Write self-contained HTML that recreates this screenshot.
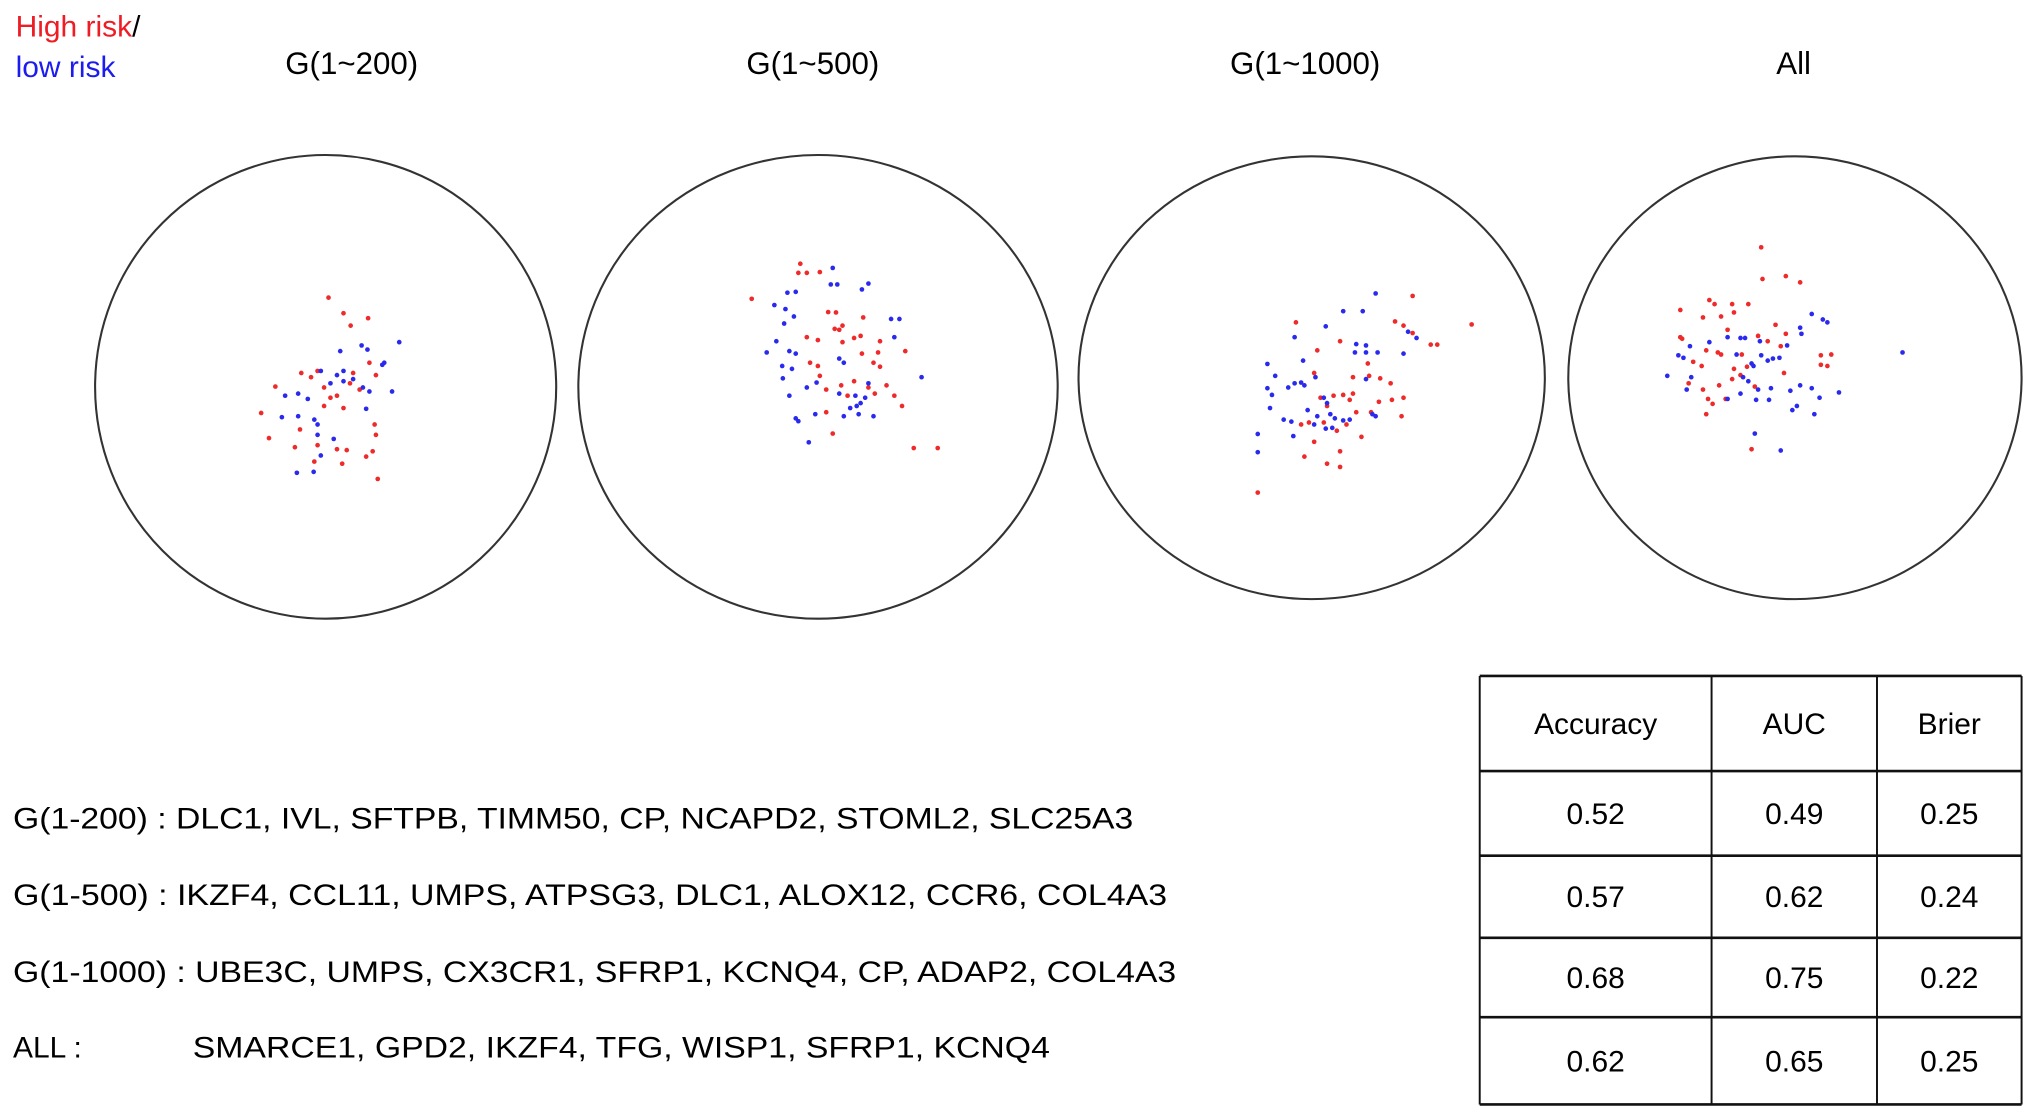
<!DOCTYPE html>
<html><head><meta charset="utf-8"><style>
html,body{margin:0;padding:0;background:#fff;}
svg{display:block;font-family:"Liberation Sans",Arial,sans-serif;}
</style></head><body>
<svg id="fig" width="2032" height="1111" viewBox="0 0 1560 853" preserveAspectRatio="none" xmlns="http://www.w3.org/2000/svg">
<g>
<text x="12" y="28" font-size="23" fill="#ee1c24">High risk<tspan fill="#000">/</tspan></text>
<text x="12" y="59" font-size="23" fill="#1c1cee">low risk</text>
</g>
<text x="270" y="57" font-size="24" text-anchor="middle">G(1~200)</text>
<text x="624" y="57" font-size="24" text-anchor="middle">G(1~500)</text>
<text x="1002" y="57" font-size="24" text-anchor="middle">G(1~1000)</text>
<text x="1377" y="57" font-size="24" text-anchor="middle">All</text>
<ellipse cx="250" cy="297" rx="177" ry="178" fill="none" stroke="#333" stroke-width="1.6"/>
<ellipse cx="628" cy="297" rx="184" ry="178" fill="none" stroke="#333" stroke-width="1.6"/>
<ellipse cx="1007" cy="290" rx="179" ry="170" fill="none" stroke="#333" stroke-width="1.6"/>
<ellipse cx="1378" cy="290" rx="174" ry="170" fill="none" stroke="#333" stroke-width="1.6"/>
<g id="points"></g>
<g font-size="23">
<text x="10" y="636" textLength="860" lengthAdjust="spacingAndGlyphs">G(1-200) : DLC1, IVL, SFTPB, TIMM50, CP, NCAPD2, STOML2, SLC25A3</text>
<text x="10" y="695" textLength="886" lengthAdjust="spacingAndGlyphs">G(1-500) : IKZF4, CCL11, UMPS, ATPSG3, DLC1, ALOX12, CCR6, COL4A3</text>
<text x="10" y="754" textLength="893" lengthAdjust="spacingAndGlyphs">G(1-1000) : UBE3C, UMPS, CX3CR1, SFRP1, KCNQ4, CP, ADAP2, COL4A3</text>
<text x="10" y="812">ALL :</text>
<text x="148" y="812" textLength="658" lengthAdjust="spacingAndGlyphs">SMARCE1, GPD2, IKZF4, TFG, WISP1, SFRP1, KCNQ4</text>
</g>
<g id="tbl" font-size="23" text-anchor="middle"></g>
</svg>
<script>
// raw zoom-read coordinates per panel (zoom units)
const p1RedX=[507,530,568,541,465,490,480,545,580,570,500,520,555,500,530,425,403,415,463,455,490,520,535,578,580,575,565,528,485,583,510,540];
const p1RedY=[722,760,772,790,905,900,915,905,910,880,940,960,945,985,990,938,1002,1063,1042,1085,1080,1090,1092,1030,1055,1095,1108,1125,1120,1162,965,930];
const p1BlueX=[525,558,567,616,593,590,520,510,495,530,560,570,605,440,460,475,435,485,490,490,515,565,460,458,484,495,530,545];
const p1BlueY=[852,838,848,830,880,885,910,930,900,925,940,950,950,960,955,968,1012,1018,1030,1055,1065,992,1010,1147,1145,1105,900,920];
const p2RedX=[1235,1232,1245,1265,1160,1278,1290,1332,1300,1295,1288,1245,1262,1300,1318,1328,1358,1397,1250,1262,1330,1348,1358,1265,1298,1318,1340,1308,1350,1368,1380,1275,1285,1392,1410,1447,1275,1355];
const p2RedY=[640,662,662,660,725,757,758,770,790,800,798,818,825,830,820,815,828,852,880,888,858,880,890,912,935,925,940,960,955,935,960,1000,1052,985,1087,1087,945,855];
const p2BlueX=[1285,1282,1292,1340,1330,1215,1228,1195,1212,1225,1375,1388,1210,1198,1218,1228,1183,1295,1302,1380,1207,1222,1208,1422,1245,1260,1295,1320,1340,1218,1312,1322,1328,1302,1325,1348,1228,1232,1248,1258,1335];
const p2BlueY=[650,690,690,688,702,710,708,740,750,768,774,774,785,828,852,858,855,870,880,818,888,895,918,915,940,928,955,960,930,960,990,985,978,1010,1005,1010,1015,1022,1073,1005,965];
const p3RedX=[612,585,598,703,432,612,640,650,500,465,543,460,520,545,562,578,470,490,505,520,515,480,525,548,560,580,598,595,440,452,460,495,510,533,445,480,500,500,373,475];
const p3RedY=[718,780,790,787,782,808,836,836,828,850,882,905,915,912,918,930,965,960,958,955,970,985,1000,1000,975,970,965,1010,1030,1025,1072,1045,1030,1060,1108,1125,1095,1133,1195,1025];
const p3BlueX=[555,505,535,478,430,605,618,525,540,523,540,558,598,388,443,400,430,440,445,462,420,388,395,475,480,392,450,465,485,492,505,515,413,425,460,478,488,555,373,373,428,540,550];
const p3BlueY=[712,755,755,792,818,805,820,835,838,855,855,855,858,883,875,912,930,928,935,915,940,942,958,965,978,990,995,1010,1005,1015,1020,1018,1018,1023,1030,1040,1038,1010,1053,1097,1058,920,1005];
const p4RedX=[1150,1152,1188,1210,1025,1070,1078,1105,1130,1088,1108,1060,1025,1028,1172,1188,1098,1145,1160,1065,1083,1088,1120,1045,1058,1108,1128,1242,1258,1242,1252,1185,1118,1105,1085,1038,1060,1068,1095,1075,1065,1135,1140,1180];
const p4RedY=[600,677,670,685,752,728,738,738,738,768,758,770,818,822,788,810,800,815,828,850,855,860,860,878,888,895,890,862,860,885,888,905,910,920,935,930,945,968,968,980,1005,1090,938,840];
const p4BlueX=[1228,1245,1252,1210,1212,1098,1118,1125,1148,1190,1040,1070,1022,1030,1112,1150,1135,1160,1168,1178,1005,1035,1042,1122,1130,1145,1165,1195,1210,1228,1270,1240,1142,1162,1118,1098,1205,1198,1232,1140,1180,1368,1138];
const p4BlueY=[762,775,782,795,810,818,820,820,828,838,840,830,862,868,860,862,882,875,870,868,912,945,915,915,925,945,942,948,935,942,952,965,970,970,955,968,985,995,1005,1052,1093,855,888];
// table data
const headers=["Accuracy","AUC","Brier"];
const accuracy=["0.52","0.57","0.68","0.62"];
const auc=["0.49","0.62","0.75","0.65"];
const brier=["0.25","0.24","0.22","0.25"];

const NS="http://www.w3.org/2000/svg";
function xLeft(v){return v/2.01;}
function xRight(v){return 780+v/2.01;}
function yScale(v){return v/3.16;}
const pg=document.getElementById('points');
function drawSet(xs,ys,xf,color,name){
  for(let i=0;i<xs.length;i++){
    const c=document.createElementNS(NS,'circle');
    c.setAttribute('cx',xf(xs[i]).toFixed(1));
    c.setAttribute('cy',yScale(ys[i]).toFixed(1));
    c.setAttribute('r','1.8');
    c.setAttribute('fill',color);
    
    
    pg.appendChild(c);
  }
}
const RED="#ee2a2a",BLUE="#2a2aee";
drawSet(p1RedX,p1RedY,xLeft,RED,'point-g200-high');
drawSet(p1BlueX,p1BlueY,xLeft,BLUE,'point-g200-low');
drawSet(p2RedX,p2RedY,xLeft,RED,'point-g500-high');
drawSet(p2BlueX,p2BlueY,xLeft,BLUE,'point-g500-low');
drawSet(p3RedX,p3RedY,xRight,RED,'point-g1000-high');
drawSet(p3BlueX,p3BlueY,xRight,BLUE,'point-g1000-low');
drawSet(p4RedX,p4RedY,xRight,RED,'point-all-high');
drawSet(p4BlueX,p4BlueY,xRight,BLUE,'point-all-low');

// table
const tb=document.getElementById('tbl');
const colX=[1136,1314,1441,1552];
const rowY=[519,592,657,720,781,848];
function line(x1,y1,x2,y2,w){
  const l=document.createElementNS(NS,'line');
  l.setAttribute('x1',x1);l.setAttribute('y1',y1);l.setAttribute('x2',x2);l.setAttribute('y2',y2);
  l.setAttribute('stroke','#111');l.setAttribute('stroke-width',w);
  
  
  tb.appendChild(l);
}
rowY.forEach(y=>line(colX[0],y,colX[3],y,2));
colX.forEach(x=>line(x,rowY[0],x,rowY[5],1.5));
function cell(txt,c,r){
  const t=document.createElementNS(NS,'text');
  t.setAttribute('x',(colX[c]+colX[c+1])/2);
  t.setAttribute('y',(rowY[r]+rowY[r+1])/2+8);
  t.textContent=txt;
  
  
  tb.appendChild(t);
}
headers.forEach((h,i)=>cell(h,i,0));
for(let r=0;r<accuracy.length;r++){cell(accuracy[r],0,r+1);cell(auc[r],1,r+1);cell(brier[r],2,r+1);}
</script>
</body></html>
